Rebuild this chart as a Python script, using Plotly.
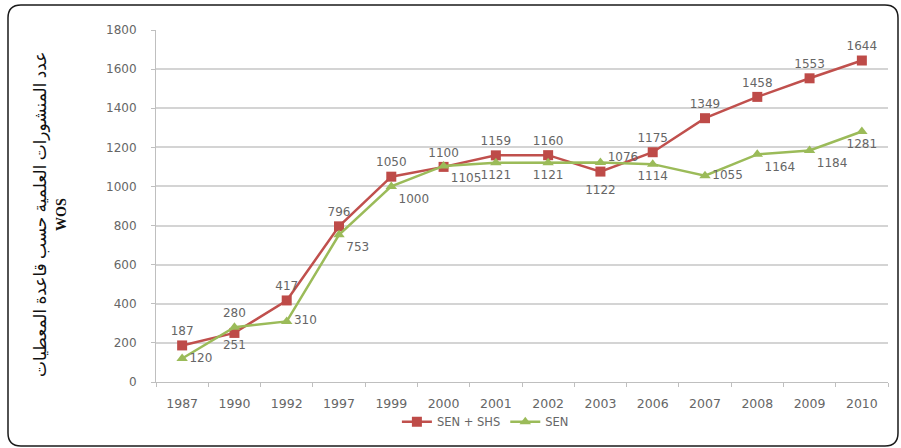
import plotly.graph_objects as go

# Publication counts per year (Web of Science)
years = ["1987", "1990", "1992", "1997", "1999", "2000", "2001",
         "2002", "2003", "2006", "2007", "2008", "2009", "2010"]
sen_shs = [187, 251, 417, 796, 1050, 1100, 1159, 1160, 1076, 1175, 1349, 1458, 1553, 1644]
sen = [120, 280, 310, 753, 1000, 1105, 1121, 1121, 1122, 1114, 1055, 1164, 1184, 1281]

red_pos = ["top center", "bottom center", "top center", "top center", "top center",
           "top center", "top center", "top center", "top right", "top center",
           "top center", "top center", "top center", "top center"]
green_pos = ["middle right", "top center", "middle right", "bottom right", "bottom right",
             "bottom right", "bottom center", "bottom center", "bottom center",
             "bottom center", "middle right", "bottom right", "bottom right", "bottom center"]

y_title = "عدد المنشورات العلمية حسب قاعدة المعطيات"

W, H = 901, 448
ML, MR, MT, MB = 156, 13, 30, 66
PW, PH = W - ML - MR, H - MT - MB

SANS = "DejaVu Sans, Verdana, sans-serif"
GREY = "#666666"
label_font = dict(family=SANS, size=12, color=GREY)

# the 2003 SEN label sits under the SEN + SHS marker, so push it one line lower
sen_text = [str(v) for v in sen]
sen_text[years.index("2003")] = "<br>" + sen_text[years.index("2003")]

fig = go.Figure()
fig.add_trace(go.Scatter(
    x=years, y=sen_shs, name="SEN + SHS", mode="lines+markers+text",
    line=dict(color="#C0504D", width=2.5),
    marker=dict(symbol="square", size=10, color="#BE4B48"),
    text=[str(v) for v in sen_shs], textposition=red_pos, textfont=label_font,
))
fig.add_trace(go.Scatter(
    x=years, y=sen, name="SEN", mode="lines+markers+text",
    line=dict(color="#9BBB59", width=2.5),
    marker=dict(symbol="triangle-up", size=10, color="#9BBB59"),
    text=sen_text, textposition=green_pos, textfont=label_font,
))


def px(x, y):
    return (x - ML) / PW, (H - MB - y) / PH


def rounded_rect(x0, y0, x1, y1, r):
    pts = [
        ("M", px(x0 + r, y0)), ("L", px(x1 - r, y0)),
        ("Q", px(x1, y0), px(x1, y0 + r)), ("L", px(x1, y1 - r)),
        ("Q", px(x1, y1), px(x1 - r, y1)), ("L", px(x0 + r, y1)),
        ("Q", px(x0, y1), px(x0, y1 - r)), ("L", px(x0, y0 + r)),
        ("Q", px(x0, y0), px(x0 + r, y0)),
    ]
    out = []
    for item in pts:
        cmd = item[0]
        coords = " ".join(f"{a:.5f},{b:.5f}" for a, b in item[1:])
        out.append(f"{cmd} {coords}")
    return " ".join(out) + " Z"


fig.add_shape(type="path", xref="paper", yref="paper",
              path=rounded_rect(8, 5, 898, 446, 13),
              line=dict(color="#1a1a1a", width=1.5), layer="above")

fig.add_annotation(
    xref="paper", yref="paper", x=(40 - ML) / PW, y=(H - MB - 215) / PH,
    xanchor="center", yanchor="middle",
    text=y_title, textangle=-90, showarrow=False,
    font=dict(family="Liberation Serif, DejaVu Sans, serif", size=17, color="#111111"),
)
fig.add_annotation(
    xref="paper", yref="paper", x=(61 - ML) / PW, y=(H - MB - 215) / PH,
    xanchor="center", yanchor="middle",
    text="<b>WOS</b>", textangle=-90, showarrow=False,
    font=dict(family="Liberation Serif, serif", size=14, color="#111111"),
)

fig.update_layout(
    width=W, height=H,
    margin=dict(l=ML, r=MR, t=MT, b=MB),
    paper_bgcolor="white", plot_bgcolor="white",
    showlegend=True,
    legend=dict(orientation="h", x=0.45, xanchor="center", y=-0.072, yanchor="top",
                bgcolor="rgba(0,0,0,0)",
                font=dict(family=SANS, size=11.5, color=GREY),
                itemwidth=30, tracegroupgap=0),
    xaxis=dict(type="category", range=[-0.5, len(years) - 0.5],
               showgrid=False, showline=True, linecolor="#bfbfbf",
               linewidth=1, ticks="outside", tickson="boundaries", ticklen=4,
               tickcolor="#bfbfbf", ticklabelstandoff=10,
               tickfont=dict(family=SANS, size=12.5, color=GREY)),
    yaxis=dict(range=[0, 1800], dtick=200, showgrid=True, gridcolor="#d4d4d4", gridwidth=1.5,
               showline=True, linecolor="#bfbfbf", linewidth=1, ticks="outside", ticklen=4,
               tickcolor="#bfbfbf", zeroline=False, ticklabelstandoff=12,
               tickfont=dict(family=SANS, size=12, color=GREY)),
)

fig.write_html("out.html")
